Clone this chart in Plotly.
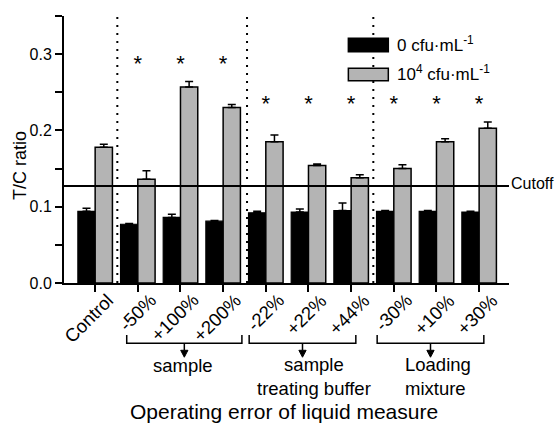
import plotly.graph_objects as go

categories = ["Control", "-50%", "+100%", "+200%", "-22%", "+22%", "+44%", "-30%", "+10%", "+30%"]
zero_vals = [0.094, 0.077, 0.086, 0.081, 0.092, 0.093, 0.095, 0.094, 0.094, 0.093]
zero_err = [0.004, 0.001, 0.004, 0.001, 0.002, 0.004, 0.010, 0.001, 0.001, 0.001]
high_vals = [0.178, 0.136, 0.257, 0.230, 0.185, 0.154, 0.138, 0.150, 0.185, 0.203]
high_err = [0.004, 0.011, 0.007, 0.004, 0.009, 0.002, 0.004, 0.005, 0.004, 0.008]
star_cats = ["-50%", "+100%", "+200%", "-22%", "+22%", "+44%", "-30%", "+10%", "+30%"]
star_y = [0.285, 0.285, 0.285, 0.233, 0.233, 0.233, 0.233, 0.233, 0.233]
cutoff = 0.127
group_names = ["sample", "sample<br>treating buffer", "Loading<br>mixture"]
group_members = [(1, 3), (4, 6), (7, 9)]
dividers = [0.52, 3.56, 6.52]
series_names = ["0 cfu·mL<sup>-1</sup>", "10<sup>4</sup> cfu·mL<sup>-1</sup>"]

FONT = "Liberation Sans, Arial, sans-serif"
GRAY = "#b4b4b4"
XR = [-0.73, 9.7]

fig = go.Figure()
fig.add_trace(go.Bar(
    x=categories, y=zero_vals, name=series_names[0],
    marker=dict(color="black", line=dict(color="black", width=1.2)),
    error_y=dict(type="data", array=zero_err, symmetric=False, arrayminus=[0]*len(zero_err),
                 color="black", thickness=1.5, width=4),
    showlegend=False,
))
fig.add_trace(go.Bar(
    x=categories, y=high_vals, name=series_names[1],
    marker=dict(color=GRAY, line=dict(color="black", width=1.5)),
    error_y=dict(type="data", array=high_err, symmetric=False, arrayminus=[0]*len(high_err),
                 color="black", thickness=1.5, width=4),
    showlegend=False,
))
fig.add_trace(go.Scatter(
    x=star_cats, y=star_y, mode="text",
    text=["*"] * len(star_y),
    textposition="middle center",
    textfont=dict(family=FONT, size=22, color="black"),
    showlegend=False, hoverinfo="skip",
))

# cutoff line
fig.add_shape(type="line", xref="paper", x0=0, x1=1, yref="y", y0=cutoff, y1=cutoff,
              line=dict(color="black", width=2))
for d in dividers:
    fig.add_shape(type="line", xref="x", x0=d, x1=d, yref="paper", y0=0, y1=1,
                  line=dict(color="black", width=2, dash="2px,6px"))

ann = []
# category labels (rotated)
for i, c in enumerate(categories):
    ann.append(dict(x=i, xref="x", y=0, yref="paper", text=c, showarrow=False,
                    textangle=-45, xanchor="right", yanchor="top", xshift=25, yshift=-4,
                    font=dict(family=FONT, size=18.5, color="black")))

# brackets with down arrows
br_top, br_mid, arr_tip = -0.195, -0.226, -0.278
head_h, head_w = 0.026, 0.085
left_off = [0.26, 0.39, 0.39]
right_off = [0.44, 0.11, 0.11]
for (a, b), lo, ro in zip(group_members, left_off, right_off):
    xl, xr = a - lo, b + ro
    fig.add_shape(type="path", xref="x", yref="paper",
                  path=f"M {xl} {br_top} L {xl} {br_mid} L {xr} {br_mid} L {xr} {br_top}",
                  line=dict(color="black", width=1.5))
    xm = (xl + xr) / 2
    fig.add_shape(type="line", xref="x", yref="paper", x0=xm, x1=xm, y0=br_mid, y1=arr_tip + head_h,
                  line=dict(color="black", width=1.5))
    fig.add_shape(type="path", xref="x", yref="paper",
                  path=f"M {xm - head_w} {arr_tip + head_h} L {xm + head_w} {arr_tip + head_h} L {xm} {arr_tip} Z",
                  fillcolor="black", line=dict(color="black", width=1))

ann.append(dict(x=2.07, xref="x", y=-0.31, yref="paper", text=group_names[0], showarrow=False,
                xanchor="center", yanchor="middle", font=dict(family=FONT, size=18.5)))
ann.append(dict(x=5.13, xref="x", y=-0.35, yref="paper", text=group_names[1], showarrow=False,
                xanchor="center", yanchor="middle", align="center", font=dict(family=FONT, size=18.5)))
ann.append(dict(x=7.21, xref="x", y=-0.35, yref="paper", text=group_names[2], showarrow=False,
                xanchor="left", yanchor="middle", align="left", font=dict(family=FONT, size=18.5)))
ann.append(dict(x=0.495, xref="paper", y=-0.48, yref="paper", text="Operating error of liquid measure",
                showarrow=False, xanchor="center", yanchor="middle", font=dict(family=FONT, size=21)))
# y title
ann.append(dict(x=-0.10, xref="paper", y=0.44, yref="paper", text="T/C ratio", textangle=-90,
                showarrow=False, xanchor="center", yanchor="middle", font=dict(family=FONT, size=18)))
# cutoff label
ann.append(dict(x=1, xref="paper", y=cutoff, yref="y", text="Cutoff", showarrow=False,
                xanchor="left", yanchor="middle", xshift=0, yshift=3, font=dict(family=FONT, size=16)))

# legend (manual swatches)
leg_rows = [(0.866, 0.9165, "black"), (0.7577, 0.804, GRAY)]
for (y0, y1, col), nm in zip(leg_rows, series_names):
    fig.add_shape(type="rect", xref="paper", yref="paper", x0=0.639, x1=0.7288, y0=y0, y1=y1,
                  fillcolor=col, line=dict(color="black", width=1.5))
    ann.append(dict(x=0.744, xref="paper", y=(y0 + y1) / 2 + 0.005, yref="paper", text=nm,
                    showarrow=False, xanchor="left", yanchor="middle",
                    font=dict(family=FONT, size=17)))

fig.update_layout(
    width=556, height=423,
    margin=dict(l=64, r=47, t=16, b=140),
    paper_bgcolor="white", plot_bgcolor="white",
    barmode="group", bargap=0.19, bargroupgap=0.0,
    font=dict(family=FONT, color="black"),
    annotations=ann,
    xaxis=dict(type="category", categoryorder="array", categoryarray=categories,
               range=XR, showticklabels=False, ticks="outside", ticklen=7, tickwidth=1.5,
               tickcolor="black", showline=True, linewidth=2, linecolor="black",
               showgrid=False, zeroline=False),
    xaxis2=dict(overlaying="x", side="top", type="linear", range=XR,
                tickvals=list(range(len(categories))), showticklabels=False,
                ticks="inside", ticklen=8, tickwidth=1.5, tickcolor="black",
                showline=True, linewidth=2, linecolor="black", showgrid=False, zeroline=False),
    yaxis=dict(range=[0, 0.35], dtick=0.1, tick0=0, tickformat=".1f",
               ticks="outside", ticklen=7, tickwidth=1.5, tickcolor="black",
               minor=dict(dtick=0.05, ticks="outside", ticklen=7, tickwidth=1.5, tickcolor="black"),
               tickfont=dict(family=FONT, size=16),
               showline=True, linewidth=2, linecolor="black", showgrid=False, zeroline=False),
    yaxis2=dict(overlaying="y", side="right", range=[0, 0.35], dtick=0.05, tick0=0,
                showticklabels=False, ticks="inside", ticklen=8, tickwidth=1.5, tickcolor="black",
                showline=True, linewidth=2, linecolor="black", showgrid=False, zeroline=False),
)

fig.write_html("out.html", config={"displayModeBar": False},
               post_script="document.body.style.margin='0';document.body.style.padding='0';")
